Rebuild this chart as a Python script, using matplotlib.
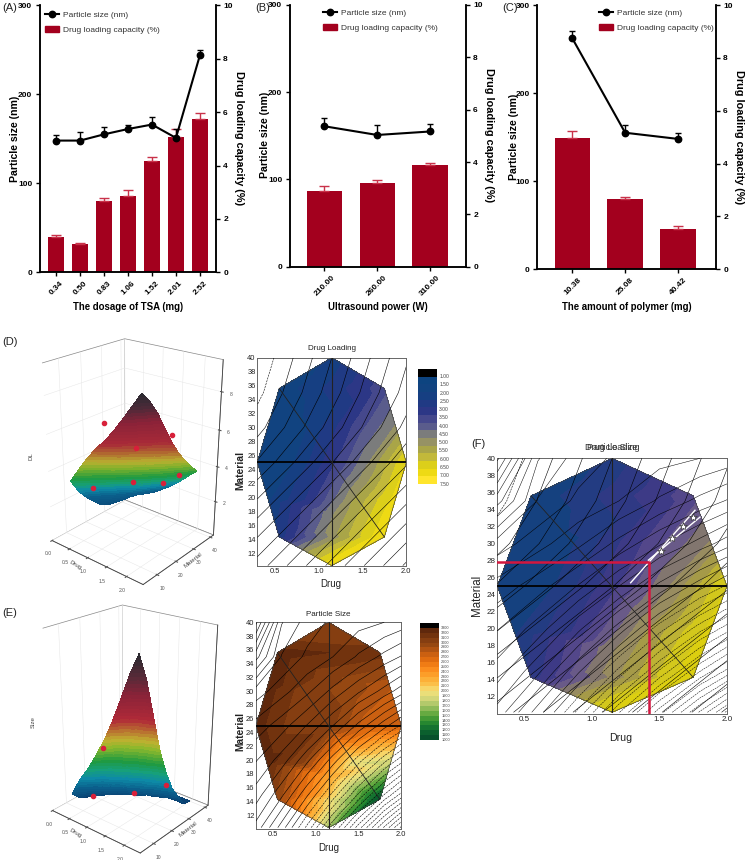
import numpy as np
import matplotlib
matplotlib.use("Agg")
import matplotlib.pyplot as plt
from matplotlib.colors import LinearSegmentedColormap
from matplotlib.lines import Line2D
from matplotlib.patches import Patch, Rectangle
from matplotlib.tri import Triangulation
from mpl_toolkits.mplot3d import proj3d

plt.rcParams['font.family'] = ['Liberation Sans', 'DejaVu Sans']
W, H = 745, 860

# ---------- bar panels ----------
A_labels = ['0.34', '0.50', '0.83', '1.06', '1.52', '2.01', '2.52']
A_size = [148, 148, 155, 161, 166, 151, 244]
A_size_err = [6, 10, 8, 5, 8, 10, 6]
A_load = [1.33, 1.05, 2.67, 2.87, 4.18, 5.05, 5.75]
A_load_err = [0.05, 0.05, 0.10, 0.21, 0.12, 0.32, 0.22]

B_labels = ['210.00', '260.00', '310.00']
B_size = [161, 151, 155]
B_size_err = [9, 11, 9]
B_load = [2.88, 3.20, 3.90]
B_load_err = [0.22, 0.13, 0.06]

C_labels = ['10.38', '25.08', '40.42']
C_size = [262, 155, 148]
C_size_err = [9, 9, 7]
C_load = [4.97, 2.67, 1.53]
C_load_err = [0.27, 0.08, 0.12]

# ---------- response-surface readings ----------
design_drug = [1.15, 1.75, 2.00, 1.75, 1.15, 0.55, 0.30, 0.55, 1.15,
               1.15, 1.45, 1.575, 1.45, 1.15, 0.85, 0.725, 0.85,
               0.85, 1.45, 1.875, 1.875, 1.45, 0.85, 0.425, 0.425, 1.0]
design_mat = [40.0, 35.6, 25.0, 14.3, 10.2, 14.3, 25.0, 35.6, 25.0,
              32.5, 30.3, 25.0, 19.6, 17.6, 19.6, 25.0, 30.3,
              12.25, 12.25, 19.65, 30.3, 37.8, 37.8, 30.3, 19.65, 15.0]
design_DL = [2.2, 3.8, 7.0, 7.5, 7.5, 2.7, 1.6, 1.6, 3.3,
             2.4, 3.7, 5.0, 5.7, 4.9, 3.0, 2.0, 1.9,
             5.3, 7.5, 7.2, 5.0, 3.0, 1.8, 1.5, 1.9, 4.7]
design_PS = [3050, 3150, 2700, 1050, 1700, 2950, 3250, 3250, 3050,
             3050, 2950, 2750, 1900, 2300, 3000, 3050, 3050,
             2450, 1300, 1800, 2800, 3050, 3050, 3250, 3250, 2400]
DL_band_labels = ['1.00', '1.50', '2.00', '2.50', '3.00', '3.50', '4.00', '4.50', '5.00', '5.50', '6.00', '6.50', '7.00', '7.50']
PS_band_labels = [str(v) for v in range(3300, 900, -100)]

# contour-line fields
line_drug = [0.3, 0.6, 0.9, 1.2, 1.5, 1.8, 2.0]
line_mat = [10.2, 15, 20, 25, 30, 35, 40]
line_DL = [[1.48, 1.78, 2.08, 2.38, 2.68, 2.98, 3.18],
           [1.10, 1.40, 1.70, 2.00, 2.30, 2.60, 2.80],
           [0.70, 1.00, 1.30, 1.60, 1.90, 2.20, 2.40],
           [0.30, 0.60, 0.90, 1.20, 1.50, 1.80, 2.00],
           [-.03, 0.27, 0.57, 0.87, 1.17, 1.47, 1.67],
           [-.23, 0.07, 0.37, 0.67, 0.97, 1.27, 1.47],
           [-.35, -.05, 0.25, 0.55, 0.85, 1.15, 1.35]]
line_PS = [[6, 2, -3, -9, -15, -21, -25],
           [8.5, 5.5, 1.5, -3, -8, -13, -16],
           [10.5, 8.5, 5.5, 2, -2, -6, -8.5],
           [12.5, 11, 9, 6.5, 3.5, 0.5, -1.5],
           [15, 13.5, 12, 10, 8, 6, 4.5],
           [20, 15.5, 14, 13, 11.5, 10, 9],
           [25, 17, 15, 14, 13.5, 13, 12.5]]

# 3D surfaces
surf_drug = [0.18, 0.41, 0.65, 0.90, 1.15, 1.36, 1.58, 1.79, 2.00]
surf_mat = [10.2, 13.9, 17.7, 21.4, 25.1, 28.8, 32.6, 36.3, 40.0]
surf_DL = [[3.2, 4.01, 4.82, 5.54, 6.17, 6.8, 7.52, 8.24, 8.96],
           [2.39, 3.2, 4.01, 4.73, 5.45, 6.08, 6.8, 7.61, 8.42],
           [1.81, 2.53, 3.2, 3.92, 4.64, 5.36, 6.08, 6.89, 7.7],
           [1.36, 1.99, 2.62, 3.29, 3.97, 4.64, 5.32, 6.08, 6.8],
           [.91, 1.49, 2.08, 2.71, 3.34, 3.92, 4.55, 5.23, 5.9],
           [.68, 1.13, 1.67, 2.21, 2.75, 3.34, 3.92, 4.55, 5.18],
           [.59, .95, 1.4, 1.85, 2.35, 2.84, 3.38, 3.97, 4.55],
           [.59, .91, 1.27, 1.63, 2.03, 2.48, 2.98, 3.47, 4.01],
           [.59, .82, 1.09, 1.4, 1.81, 2.17, 2.62, 3.11, 3.56]]
surf_PS = [[230, 547, 810, 1134, 1486, 1843, 2257, 2665, 3000],
           [80, 300, 560, 880, 1200, 1540, 1900, 2240, 2560],
           [10, 120, 300, 520, 780, 1060, 1360, 1640, 1910],
           [0, 30, 130, 280, 450, 650, 870, 1080, 1285],
           [0, 0, 40, 120, 230, 360, 510, 670, 830],
           [0, 0, 10, 40, 100, 170, 270, 370, 475],
           [0, 0, 0, 10, 30, 60, 110, 170, 240],
           [0, 0, 0, 0, 0, 10, 20, 30, 30],
           [0, 0, 0, 0, 0, 0, 0, 0, 0]]
pts_D_drug = [0.55, 0.30, 0.55, 1.15, 1.75, 2.00, 1.15]
pts_D_mat = [14.3, 25.0, 35.6, 40.0, 35.6, 25.0, 25.0]
pts_D_z = [2.85, 5.8, 2.0, 2.15, 3.35, 6.3, 5.0]
pts_E_drug = [0.55, 0.30, 1.15, 2.00]
pts_E_mat = [14.3, 25.0, 25.0, 25.0]
pts_E_z = [210, 850, 215, 620]

# F overlay
star_drug = [1.51, 1.595, 1.674, 1.748]
star_mat = [29.15, 30.6, 32.0, 33.1]
opt_drug = 1.42
opt_mat = 27.8

fig = plt.figure(figsize=(W / 100, H / 100), dpi=100, facecolor='white')


def rect(l, t, r, b):
    return [l / W, 1 - b / H, (r - l) / W, (b - t) / H]


def ftext(x, y, s, **kw):
    kw.setdefault('ha', 'center')
    kw.setdefault('va', 'center')
    return fig.text(x / W, 1 - y / H, s, **kw)


BAR = '#a3001e'
ERR = '#c9324a'


def bar_panel(box, labels, size, size_err, load, load_err, xlab, legend_xy, xlim,
              ylab_xy, rlab_xy, xlab_xy):
    ax2 = fig.add_axes(rect(*box))
    ax = ax2.twinx()
    ax.yaxis.tick_left()
    ax2.yaxis.tick_right()
    x = np.arange(len(labels))
    ax2.bar(x, load, width=0.67, color=BAR, zorder=2)
    ax2.errorbar(x, load, yerr=[[0] * len(x), load_err], fmt='none', ecolor=ERR, elinewidth=1.0,
                 capsize=3.6, capthick=1.0, zorder=3)
    ax.errorbar(x, size, yerr=[[0] * len(x), size_err], fmt='none', ecolor='black', elinewidth=1.0,
                capsize=2.2, capthick=1.0, zorder=4)
    ax.plot(x, size, '-o', color='black', lw=1.5, ms=4.6, zorder=5)
    ax.set_ylim(0, 300)
    ax2.set_ylim(0, 10)
    ax.set_xlim(*xlim)
    ax2.set_xlim(*xlim)
    ax.set_yticks([0, 100, 200, 300])
    ax2.set_yticks([0, 2, 4, 6, 8, 10])
    ax2.set_xticks(x)
    ax2.set_xticklabels(labels, rotation=45, ha='center', fontweight='bold', fontsize=6.0)
    for a in (ax, ax2):
        a.spines['top'].set_visible(False)
        for s in ('left', 'right', 'bottom'):
            a.spines[s].set_linewidth(1.1)
        a.tick_params(width=1.0, length=3.2, labelsize=6.0, pad=2)
    for t in list(ax.get_yticklabels()) + list(ax2.get_yticklabels()):
        t.set_fontweight('bold')
    ftext(*ylab_xy, 'Particle size (nm)', rotation=90, fontweight='bold', fontsize=7.6)
    ftext(*rlab_xy, 'Drug loading capacity (%)', rotation=270, fontweight='bold', fontsize=7.8)
    ftext(*xlab_xy, xlab, fontweight='bold', fontsize=6.95)
    handles = [Line2D([], [], color='black', marker='o', ms=4.6, lw=1.5), Patch(color=BAR)]
    fig.legend(handles, ['Particle size (nm)', 'Drug loading capacity (%)'], frameon=False,
               loc='upper left', bbox_to_anchor=(legend_xy[0] / W, 1 - legend_xy[1] / H),
               fontsize=6.0, labelspacing=0.85, handlelength=1.7, handletextpad=0.45,
               borderpad=0, borderaxespad=0, labelcolor='#333333')


bar_panel((39.5, 5.3, 216, 272.3), A_labels, A_size, A_size_err, A_load, A_load_err,
          'The dosage of TSA (mg)', (45, 11.5), (-0.69, 6.67), (15, 139), (239, 138), (128, 307))
bar_panel((289.5, 5.0, 466, 266.7), B_labels, B_size, B_size_err, B_load, B_load_err,
          'Ultrasound power (W)', (322.7, 9.5), (-0.66, 2.68), (265, 135), (489, 135), (377.7, 307))
bar_panel((537, 5.0, 716, 269.3), C_labels, C_size, C_size_err, C_load, C_load_err,
          'The amount of polymer (mg)', (599, 9.5), (-0.67, 2.72), (514, 137), (739, 137), (627, 307))

# ---------- 2D maps ----------
DL_colors = ['#0d4480', '#114380', '#163f82', '#203a84', '#2c3786', '#45488c', '#5a5c8c', '#7b7c7c',
             '#969264', '#a9a548', '#c2b93a', '#dccf1a', '#eeda14', '#ffe52c']
DL_levels = [1.0 + 0.5 * i for i in range(15)]
DL_F_colors = ['#10447e', '#15417f', '#233c82', '#2f3984', '#3d3a86', '#53478a', '#695a88', '#82766f',
               '#988c60', '#a59a48', '#bdb234', '#d3c81c', '#dccf10', '#e8d818']
PS_cmap = LinearSegmentedColormap.from_list('ps', [
    '#07502c', '#0e6a30', '#2a8c30', '#5aa53a', '#9cc060', '#cfd578', '#f5e27a', '#fbc04a',
    '#fca62e', '#fb8a1c', '#e8700f', '#c45c12', '#9a4a12', '#7e3a10', '#5f280c'])
PS_levels = list(range(1000, 3400, 100))
PS_colors = [PS_cmap(i / (len(PS_levels) - 2)) for i in range(len(PS_levels) - 1)]
OUT_X = [1.15, 1.75, 2.00, 1.75, 1.15, 0.55, 0.30, 0.55, 1.15]
OUT_Y = [40.0, 35.6, 25.0, 14.3, 10.2, 14.3, 25.0, 35.6, 40.0]


def draw_skeleton(ax, lw_h=1.3):
    ax.plot(OUT_X, OUT_Y, color='#444444', lw=0.5, zorder=4)
    ax.plot([0.3, 2.0], [25.0, 25.0], color='black', lw=lw_h, zorder=5)
    ax.plot([1.15, 1.15], [10.2, 40.0], color='#222222', lw=0.8, zorder=5)
    ax.plot([0.55, 1.75], [35.6, 14.3], color='#222222', lw=0.6, zorder=5)


def style_map(ax, bottom, xl_x, xl_y, yl_x, yl_y, ylab_weight='bold', ylab_fs=7.4, fs=5.4, xfs=7.0):
    ax.set_xlim(0.3, 2.0)
    ax.set_ylim(bottom, 40)
    ax.set_xticks([0.5, 1.0, 1.5, 2.0])
    ax.set_yticks(list(range(12, 41, 2)))
    ax.tick_params(length=0, labelsize=fs, pad=1.2, colors='#222222')
    for s in ax.spines.values():
        s.set_linewidth(0.7)
        s.set_color('#666666')
    ftext(xl_x, xl_y, 'Drug', fontsize=xfs, color='#222222')
    ftext(yl_x, yl_y, 'Material', rotation=90, fontsize=ylab_fs, fontweight=ylab_weight, color='#222222')


def band_bar(left, top, right, bottom, colors_top_down, labels, fs):
    ax = fig.add_axes(rect(left, top, right, bottom))
    ax.set_axis_off()
    n = len(colors_top_down)
    ax.set_xlim(0, 1)
    ax.set_ylim(n + 1, 0)
    ax.add_patch(Rectangle((0, 0), 1, 1, color='black', lw=0))
    for i, c in enumerate(colors_top_down):
        ax.add_patch(Rectangle((0, i + 1), 1, 1, color=c, lw=0))
    step = n / (len(labels) - 1)
    for i, lab in enumerate(labels):
        ax.text(1.12, 1 + i * step, lab, fontsize=fs, va='center', ha='left', color='#444444')


axd = fig.add_axes(rect(257.3, 357.7, 406.3, 566.3))
axd.tricontourf(design_drug, design_mat, design_DL, levels=DL_levels, colors=DL_colors)
axd.contour(line_drug, line_mat, line_DL, levels=np.arange(-0.6, 3.3, 0.22), colors='black', linewidths=0.4, zorder=3)
draw_skeleton(axd)
style_map(axd, 10.1, 331, 584, 240, 470)
ftext(331.5, 349, 'Drug Loading', fontsize=5.8, color='#222222')
band_bar(418, 369, 437, 484, DL_colors, DL_band_labels, 3.6)

axe = fig.add_axes(rect(256, 622.3, 401.3, 829))
axe.tricontourf(design_drug, design_mat, design_PS, levels=PS_levels, colors=PS_colors)
axe.contour(line_drug, line_mat, line_PS, levels=np.arange(-26, 30, 1.3), colors='black', linewidths=0.4, zorder=3)
draw_skeleton(axe)
style_map(axe, 10.0, 329, 848, 240, 731)
ftext(328, 615, 'Particle Size', fontsize=5.8, color='#222222')
band_bar(420, 623, 439, 740, PS_colors[::-1], PS_band_labels, 2.8)

axf = fig.add_axes(rect(497.3, 458.3, 727, 714))
axf.tricontourf(design_drug, design_mat, design_DL, levels=DL_levels, colors=DL_F_colors)
axf.contour(line_drug, line_mat, line_DL, levels=np.arange(-0.6, 3.3, 0.22), colors='black', linewidths=0.4, zorder=3)
axf.contour(line_drug, line_mat, line_PS, levels=np.arange(-26, 30, 1.3), colors='black', linewidths=0.35, zorder=3)
draw_skeleton(axf)
axf.plot([1.287, 1.763], [25.4, 33.9], color='white', lw=1.0, zorder=6)
axf.plot([1.418, 1.80], [28.05, 33.1], color='white', lw=1.0, zorder=6)
axf.plot([0.3, opt_drug, opt_drug], [opt_mat, opt_mat, 10.0], color='#d3173f', lw=1.8, zorder=7)
axf.plot(star_drug, star_mat, ls='none', marker='*', ms=6, mfc='white', mec='#333333', mew=0.5, zorder=8)
style_map(axf, 10.0, 621, 738, 477, 595, ylab_weight='normal', ylab_fs=8.3, xfs=7.6, fs=5.8)
ftext(612, 448, 'Drug Loading', fontsize=6.5, color='#333333')
ftext(612, 448, 'Particle Size', fontsize=6.5, color='#333333')

# ---------- 3D surfaces ----------
ZT = 8.96
cm_D = LinearSegmentedColormap.from_list('d', [
    (0 / ZT, '#0a3f70'), (1.85 / ZT, '#0b5f8c'), (2.5 / ZT, '#0d8aa6'), (2.85 / ZT, '#17a07a'),
    (3.4 / ZT, '#1f9a40'), (4.1 / ZT, '#7cb02c'), (4.6 / ZT, '#b8b030'), (5.2 / ZT, '#b06a30'),
    (5.9 / ZT, '#a82a38'), (7.25 / ZT, '#8a2238'), (8.15 / ZT, '#4a2a38'), (1, '#2a2a30')])
cm_E = LinearSegmentedColormap.from_list('e', [
    (0, '#0a3f70'), (350 / 3000, '#0b5f8c'), (600 / 3000, '#0d8aa6'), (800 / 3000, '#17a07a'),
    (1000 / 3000, '#1f9a40'), (1300 / 3000, '#8db82c'), (1450 / 3000, '#c0b030'), (1650 / 3000, '#b86a30'),
    (1850 / 3000, '#b02a38'), (2300 / 3000, '#8a2238'), (2600 / 3000, '#5a2a38'), (1, '#2a2a30')])


def surface(box, z, cmap, zmax, zlim, zticks, zlabel, px, py, pz, xl, yl, zl, zoom, aspect):
    ax = fig.add_axes(rect(*box), projection='3d')
    ax.patch.set_alpha(0)
    ax.set_proj_type('persp', focal_length=0.5)
    ax.set_xlim(0, 2.4)
    ax.set_ylim(3, 42)
    ax.set_zlim(*zlim)
    ax.view_init(elev=24, azim=-50)
    ax.set_box_aspect(aspect, zoom=zoom)
    ax.set_xticks([0, 0.5, 1.0, 1.5, 2.0])
    ax.set_yticks([10, 20, 30, 40])
    ax.set_zticks(zticks)
    ax.tick_params(labelsize=3.6, colors='#555555', pad=-3, length=1.5, width=0.3)
    for a in (ax.xaxis, ax.yaxis, ax.zaxis):
        a.set_pane_color((1, 1, 1, 1))
        a.pane.set_edgecolor('#888888')
        a.pane.set_linewidth(0.5)
        a._axinfo['grid'].update(color='#e6e6e6', linewidth=0.35)
        a.line.set_color('#444444')
        a.line.set_linewidth(0.6)
    ax.apply_aspect()
    X, Y = np.meshgrid(surf_drug, surf_mat)
    Z = np.array(z, dtype=float)
    M = ax.get_proj()
    sx, sy, _ = proj3d.proj_transform(X.ravel(), Y.ravel(), Z.ravel(), M)
    nr, nc = Z.shape
    tris = []
    for r in range(nr - 1):
        for c in range(nc - 1):
            a = r * nc + c
            tris += [[a, a + 1, a + nc], [a + 1, a + nc + 1, a + nc]]
    over = fig.add_axes(ax.get_position().bounds)
    over.set_axis_off()
    over.set_xlim(*ax.viewLim.intervalx)
    over.set_ylim(*ax.viewLim.intervaly)
    cs = over.tricontourf(Triangulation(sx, sy, tris), Z.ravel(),
                          levels=np.linspace(0, zmax * 1.001, 48), cmap=cmap, extend='both')
    cs.set_edgecolor('face')
    cs.set_linewidth(0.15)
    qx, qy, _ = proj3d.proj_transform(np.array(px), np.array(py), np.array(pz), M)
    over.scatter(qx, qy, color='#d8203a', s=9, zorder=5)
    ftext(*xl, 'Drug', fontsize=4.4, color='#444444', rotation=-30)
    ftext(*yl, 'Material', fontsize=4.4, color='#444444', rotation=38)
    ftext(*zl, zlabel, fontsize=4.4, color='#444444', rotation=90)
    return ax


surface((5, 333, 255, 583), surf_DL, cm_D, ZT, (0, 9.6), [2, 4, 6, 8], 'DL',
        pts_D_drug, pts_D_mat, pts_D_z, (75, 565), (193, 560), (31, 456), 1.0, (1, 0.96, 1.56))
surface((2.5, 601, 252.5, 851), surf_PS, cm_E, 3000, (0, 3150), [], 'Size',
        pts_E_drug, pts_E_mat, pts_E_z, (75, 833), (188, 829), (33, 722), 1.0, (1, 0.96, 1.66))

for x, y, s in [(2, 8, '(A)'), (255, 8, '(B)'), (502, 8, '(C)'), (2, 342, '(D)'), (2, 613, '(E)'), (471, 444, '(F)')]:
    ftext(x, y, s, ha='left', fontsize=8, color='#222222')

fig.savefig('out.png', dpi=100)
